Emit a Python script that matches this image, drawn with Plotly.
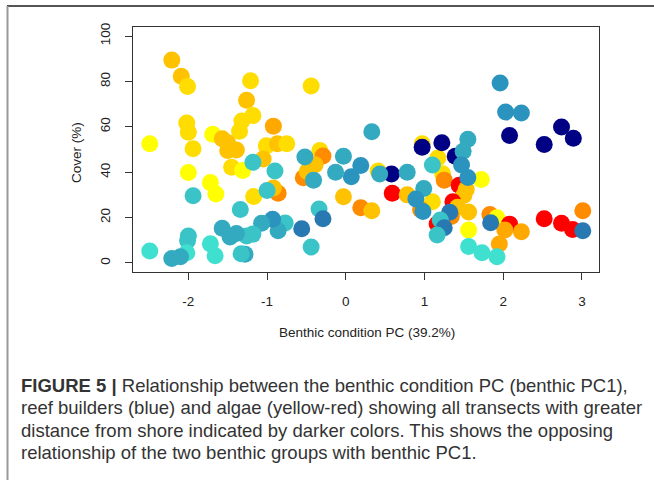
import plotly.graph_objects as go

# ---- data ----
# algae (yellow-red): x = benthic PC1, y = cover (%), lvl = distance-from-shore class (1 near .. 6 far)
algae_x = [-2.21, -2.09, -2.01, -1.21, -1.26, -0.44, -2.02, -2.00, -1.18, -1.32, -1.35, -1.69,
           -0.92, -2.49, -1.94, -1.57, -1.50, -1.50, -1.39, -1.01, -0.87, -0.75, -1.05, -1.45,
           -1.31, -2.00, -1.72, -1.65, -1.17, -0.86, -0.92, -0.33, -0.29, -0.54, -0.49, -0.39,
           -0.03, 0.19, 0.33, 0.41, 0.97, 1.17, 1.23, 1.25, 1.72, 0.59, 0.78, 1.10,
           0.95, 1.44, 1.53, 1.50, 1.36, 1.42, 1.56, 1.34, 1.16, 1.56, 1.95, 1.83,
           1.92, 2.08, 2.02, 2.23, 2.52, 2.74, 2.88, 3.01]
algae_y = [89.4, 82.3, 77.8, 80.3, 71.7, 78.0, 61.7, 57.6, 65.0, 62.6, 58.0, 56.7,
           60.3, 52.5, 50.3, 54.7, 53.0, 49.6, 49.8, 51.6, 52.5, 52.5, 45.8, 42.2,
           40.7, 39.9, 35.4, 30.4, 29.3, 30.7, 33.0, 49.6, 47.1, 37.5, 40.3, 43.3,
           29.2, 24.3, 23.0, 40.5, 52.5, 46.3, 39.3, 36.5, 36.8, 30.7, 30.0, 27.0,
           23.5, 34.2, 32.5, 29.8, 27.0, 24.5, 22.4, 20.5, 17.2, 14.5, 8.3, 21.3,
           19.9, 17.1, 14.5, 13.7, 19.5, 17.5, 14.7, 23.0]
algae_lvl = [3, 3, 2, 2, 3, 2, 2, 2, 2, 2, 2, 1,
             4, 1, 2, 3, 3, 3, 3, 2, 3, 2, 3, 2,
             1, 1, 1, 1, 2, 5, 3, 2, 5, 5, 3, 3,
             3, 5, 3, 2, 2, 2, 2, 5, 1, 6, 3, 2,
             5, 6, 3, 3, 6, 3, 3, 5, 6, 1, 4, 5,
             1, 6, 4, 4, 6, 6, 6, 5]

# reef builders (blue)
reef_x = [1.96, 2.03, 2.23, 2.08, 2.52, 2.74, 2.89, 0.33, 0.97, 1.22, 1.39, 1.55,
          1.49, 1.47, 1.55, 1.10, 0.58, 0.78, 0.43, 0.19, 0.07, -0.13, -0.03, -0.52,
          -0.41, -0.34, -0.29, -0.44, -0.56, -0.77, -0.86, -0.93, -1.07, -1.18, -1.26, -1.34,
          -1.39, -1.47, -1.57, -1.72, -1.66, -1.28, -1.33, -2.00, -2.01, -2.02, -2.10, -2.21,
          -2.49, -1.18, -0.90, -1.94, -1.00, 0.99, 0.89, 0.98, 1.32, 1.20, 1.25, 1.16,
          1.56, 1.73, 1.92, 1.84, 3.01]
reef_y = [79.3, 66.5, 66.1, 56.2, 52.2, 59.9, 55.0, 57.8, 51.0, 53.0, 47.0, 54.5,
          49.2, 43.2, 37.7, 43.2, 39.2, 40.0, 39.2, 42.9, 38.0, 40.0, 47.0, 46.7,
          36.5, 23.8, 19.5, 7.0, 15.1, 17.6, 14.2, 19.3, 17.5, 12.7, 11.9, 23.6,
          13.0, 11.4, 15.3, 8.4, 3.2, 3.8, 4.0, 11.9, 9.9, 4.5, 2.7, 2.0,
          5.3, 44.4, 40.5, 29.6, 31.9, 32.8, 28.2, 22.7, 22.3, 18.9, 15.5, 12.3,
          7.2, 4.5, 2.7, 17.7, 14.2]
reef_lvl = [4, 4, 4, 6, 6, 6, 6, 3, 6, 6, 6, 3,
            3, 4, 4, 2, 6, 3, 3, 4, 4, 3, 3, 3,
            3, 2, 5, 2, 5, 2, 3, 4, 3, 2, 2, 2,
            3, 3, 3, 1, 1, 3, 2, 2, 2, 1, 3, 3,
            1, 2, 2, 2, 2, 3, 4, 4, 5, 2, 5, 2,
            1, 1, 1, 5, 5]

x_ticks = [-2, -1, 0, 1, 2, 3]
x_ticklabels = ["-2", "-1", "0", "1", "2", "3"]
y_ticks = [0, 20, 40, 60, 80, 100]
y_ticklabels = ["0", "20", "40", "60", "80", "100"]

x_title = "Benthic condition PC (39.2%)"
y_title = "Cover (%)"
caption_lines = [
    "<b>FIGURE 5 |</b> Relationship between the benthic condition PC (benthic PC1),",
    "reef builders (blue) and algae (yellow-red) showing all transects with greater",
    "distance from shore indicated by darker colors. This shows the opposing",
    "relationship of the two benthic groups with benthic PC1.",
]

ALG_COL = {1: '#FFFF00', 2: '#FFDD00', 3: '#FFC200', 4: '#FFA800', 5: '#FF8C00', 6: '#FF0000'}
REEF_COL = {1: '#40E0D0', 2: '#3AC4C8', 3: '#33AABF', 4: '#2B94BE', 5: '#2878B2', 6: '#000085'}

fig = go.Figure()
fig.add_trace(go.Scatter(
    x=algae_x, y=algae_y, mode='markers', name='algae',
    marker=dict(size=17, color=[ALG_COL[l] for l in algae_lvl], line=dict(width=0)),
))
fig.add_trace(go.Scatter(
    x=reef_x, y=reef_y, mode='markers', name='reef builders',
    marker=dict(size=17, color=[REEF_COL[l] for l in reef_lvl], line=dict(width=0)),
))

# plot area in px: left 133, right 599, top 27, bottom 272
L, R, T, B = 133, 599, 27, 272
W, H = 654, 480
pw, ph = R - L, B - T


def px_x(p):
    return (p - L) / pw


def px_y(p):
    return (B - p) / ph


axis_font = dict(family="Liberation Sans, Arial, sans-serif", size=13.5, color="#222")

fig.update_layout(
    width=W, height=H,
    margin=dict(l=L, r=W - R, t=T, b=H - B, pad=0),
    paper_bgcolor='white', plot_bgcolor='white',
    showlegend=False,
    xaxis=dict(range=[-2.703, 3.216], tickvals=x_ticks, ticktext=x_ticklabels,
               ticks='outside', ticklen=7,
               tickcolor='#333', tickwidth=1, showline=True, mirror=True, linecolor='#333',
               linewidth=1, showgrid=False, zeroline=False, tickfont=axis_font,
               ticklabelstandoff=10),
    yaxis=dict(range=[-4, 104], tickvals=y_ticks, ticktext=y_ticklabels,
               ticks='outside', ticklen=7,
               tickcolor='#333', tickwidth=1, showline=True, mirror=True, linecolor='#333',
               linewidth=1, showgrid=False, zeroline=False, tickfont=axis_font,
               tickangle=-90, ticklabelstandoff=10),
)

annotations = [
    dict(text=x_title, xref='paper', yref='paper', x=px_x(367), y=px_y(332),
         showarrow=False, font=axis_font, xanchor='center', yanchor='middle'),
    dict(text=y_title, xref='paper', yref='paper', x=px_x(76), y=px_y(153),
         showarrow=False, font=axis_font, textangle=-90, xanchor='center', yanchor='middle'),
]
cap_y = [385, 407.5, 430, 452.5]
for line, yy in zip(caption_lines, cap_y):
    annotations.append(dict(
        text=line, xref='paper', yref='paper', x=px_x(19), y=px_y(yy),
        showarrow=False, xanchor='left', yanchor='middle', align='left',
        font=dict(family="Liberation Sans, Arial, sans-serif", size=18.5, color="#333")))
fig.update_layout(annotations=annotations)

# figure frame (top and left border lines)
fig.add_shape(type='line', xref='paper', yref='paper', x0=px_x(7), x1=px_x(660),
              y0=px_y(6), y1=px_y(6), line=dict(color='#555', width=2))
fig.add_shape(type='line', xref='paper', yref='paper', x0=px_x(7.5), x1=px_x(7.5),
              y0=px_y(6), y1=px_y(490), line=dict(color='#999', width=2))

fig.write_html("out.html", config={"displayModeBar": False},
               post_script="document.body.style.margin='0';document.body.style.overflow='hidden';")
